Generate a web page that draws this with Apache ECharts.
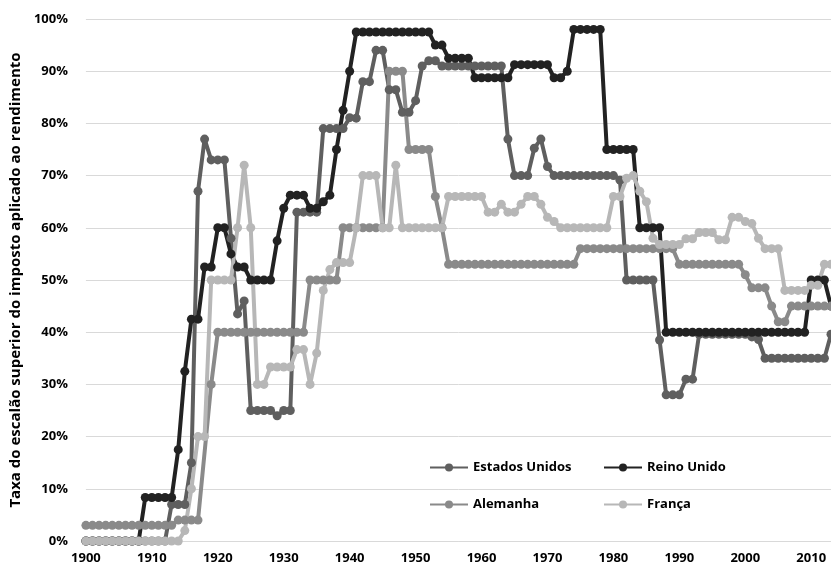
<!DOCTYPE html>
<html>
<head>
<meta charset="utf-8">
<script src="https://cdn.jsdelivr.net/npm/echarts@6/dist/echarts.min.js"></script>
<style>
  html, body { margin: 0; padding: 0; background: #fff; }
  #chart { width: 831px; height: 570px; }
</style>
</head>
<body>
<div id="chart"></div>
<script>
// anos 1900-2013
var years = [];
for (var y = 1900; y <= 2013; y++) years.push(String(y));

// taxa marginal superior (%)
var estadosUnidos = [
  0, 0, 0, 0, 0, 0, 0, 0, 0, 0,
  0, 0, 0, 7, 7, 7, 15, 67, 77, 73,
  73, 73, 58, 43.5, 46, 25, 25, 25, 25, 24,
  25, 25, 63, 63, 63, 63, 79, 79, 79, 79,
  81.1, 81, 88, 88, 94, 94, 86.45, 86.45, 82.13, 82.13,
  84.36, 91, 92, 92, 91, 91, 91, 91, 91, 91,
  91, 91, 91, 91, 77, 70, 70, 70, 75.25, 77,
  71.75, 70, 70, 70, 70, 70, 70, 70, 70, 70,
  70, 69.13, 50, 50, 50, 50, 50, 38.5, 28, 28,
  28, 31, 31, 39.6, 39.6, 39.6, 39.6, 39.6, 39.6, 39.6,
  39.6, 39.1, 38.6, 35, 35, 35, 35, 35, 35, 35,
  35, 35, 35, 39.6
];
var reinoUnido = [
  0, 0, 0, 0, 0, 0, 0, 0, 0, 8.33,
  8.33, 8.33, 8.33, 8.33, 17.5, 32.5, 42.5, 42.5, 52.5, 52.5,
  60, 60, 55, 52.5, 52.5, 50, 50, 50, 50, 57.5,
  63.75, 66.25, 66.25, 66.25, 63.75, 63.75, 65, 66.25, 75, 82.5,
  90, 97.5, 97.5, 97.5, 97.5, 97.5, 97.5, 97.5, 97.5, 97.5,
  97.5, 97.5, 97.5, 95, 95, 92.5, 92.5, 92.5, 92.5, 88.75,
  88.75, 88.75, 88.75, 88.75, 88.75, 91.25, 91.25, 91.25, 91.25, 91.25,
  91.25, 88.75, 88.75, 90, 98, 98, 98, 98, 98, 75,
  75, 75, 75, 75, 60, 60, 60, 60, 40, 40,
  40, 40, 40, 40, 40, 40, 40, 40, 40, 40,
  40, 40, 40, 40, 40, 40, 40, 40, 40, 40,
  50, 50, 50, 45
];
var alemanha = [
  3, 3, 3, 3, 3, 3, 3, 3, 3, 3,
  3, 3, 3, 3, 4, 4, 4, 4, null, 30,
  40, 40, 40, 40, 40, 40, 40, 40, 40, 40,
  40, 40, 40, 40, 50, 50, 50, 50, 50, 60,
  60, 60, 60, 60, 60, 60, 90, 90, 90, 75,
  75, 75, 75, 66, 60, 53, 53, 53, 53, 53,
  53, 53, 53, 53, 53, 53, 53, 53, 53, 53,
  53, 53, 53, 53, 53, 56, 56, 56, 56, 56,
  56, 56, 56, 56, 56, 56, 56, 56, 56, 56,
  53, 53, 53, 53, 53, 53, 53, 53, 53, 53,
  51, 48.5, 48.5, 48.5, 45, 42, 42, 45, 45, 45,
  45, 45, 45, 45
];
var franca = [
  0, 0, 0, 0, 0, 0, 0, 0, 0, 0,
  0, 0, 0, 0, 0, 2, 10, 20, 20, 50,
  50, 50, 50, 60, 72, 60, 30, 30, 33.33, 33.33,
  33.33, 33.33, 36.67, 36.67, 30, 36, 48, 52, 53.33, 53.33,
  53.33, 60, 70, 70, 70, 60, 60, 72, 60, 60,
  60, 60, 60, 60, 60, 66, 66, 66, 66, 66,
  66, 63, 63, 64.5, 63, 63, 64.5, 66, 66, 64.5,
  62, 61.2, 60, 60, 60, 60, 60, 60, 60, 60,
  66, 66, 69.5, 70, 67, 65, 58, 56.8, 56.8, 56.8,
  56.8, 57.9, 57.9, 59.1, 59.1, 59.1, 57.7, 57.7, 62, 62,
  61.2, 60.8, 58, 56, 56, 56, 48, 48, 48, 48,
  49, 49, 53, 53
];
var yTicks = [0, 10, 20, 30, 40, 50, 60, 70, 80, 90, 100];

var fontFam = '"Open Sans", "Liberation Sans", sans-serif';

function serie(nome, dados, cor) {
  return {
    name: nome,
    type: 'line',
    data: dados,
    connectNulls: true,
    symbol: 'circle',
    symbolSize: 9,
    showAllSymbol: true,
    lineStyle: { width: 4, color: cor },
    itemStyle: { color: cor },
    emphasis: { disabled: true }
  };
}

var myChart = echarts.init(document.getElementById('chart'));
var option = {
  animation: false,
  color: ['#5f5f5f', '#222222', '#8a8a8a', '#b7b7b7'],
  grid: { left: 82, top: 19, bottom: 29, width: 753 },
  legend: [
    {
      orient: 'vertical', left: 424, top: 456, itemGap: 24,
      itemWidth: 38, itemHeight: 10,
      data: ['Estados Unidos', 'Alemanha'],
      textStyle: { fontFamily: fontFam, fontWeight: 'bold', fontSize: 13, color: '#000' }
    },
    {
      orient: 'vertical', left: 598, top: 456, itemGap: 24,
      itemWidth: 38, itemHeight: 10,
      data: ['Reino Unido', 'França'],
      textStyle: { fontFamily: fontFam, fontWeight: 'bold', fontSize: 13, color: '#000' }
    }
  ],
  xAxis: {
    type: 'category',
    data: years,
    boundaryGap: false,
    axisLine: { lineStyle: { color: '#d9d9d9', width: 1 } },
    axisTick: { show: false },
    axisLabel: {
      interval: function (i, v) { return Number(v) % 10 === 0; },
      margin: 11,
      fontFamily: fontFam, fontWeight: 'bold', fontSize: 13, color: '#000'
    },
    splitLine: { show: false }
  },
  yAxis: {
    type: 'value',
    min: yTicks[0],
    max: yTicks[yTicks.length - 1],
    interval: 10,
    name: 'Taxa do escalão superior do imposto aplicado ao rendimento',
    nameLocation: 'middle',
    nameGap: 58,
    nameTextStyle: {
      fontFamily: fontFam, fontWeight: 'bold', fontSize: 15, color: '#000'
    },
    axisLine: { show: false },
    axisTick: { show: false },
    axisLabel: {
      formatter: '{value}%',
      margin: 18,
      fontFamily: fontFam, fontWeight: 'bold', fontSize: 13, color: '#000'
    },
    splitLine: { lineStyle: { color: '#d9d9d9', width: 1 } }
  },
  series: [
    serie('Estados Unidos', estadosUnidos, '#5f5f5f'),
    serie('Reino Unido', reinoUnido, '#222222'),
    serie('Alemanha', alemanha, '#8a8a8a'),
    serie('França', franca, '#b7b7b7')
  ]
};
myChart.setOption(option);
</script>
</body>
</html>
